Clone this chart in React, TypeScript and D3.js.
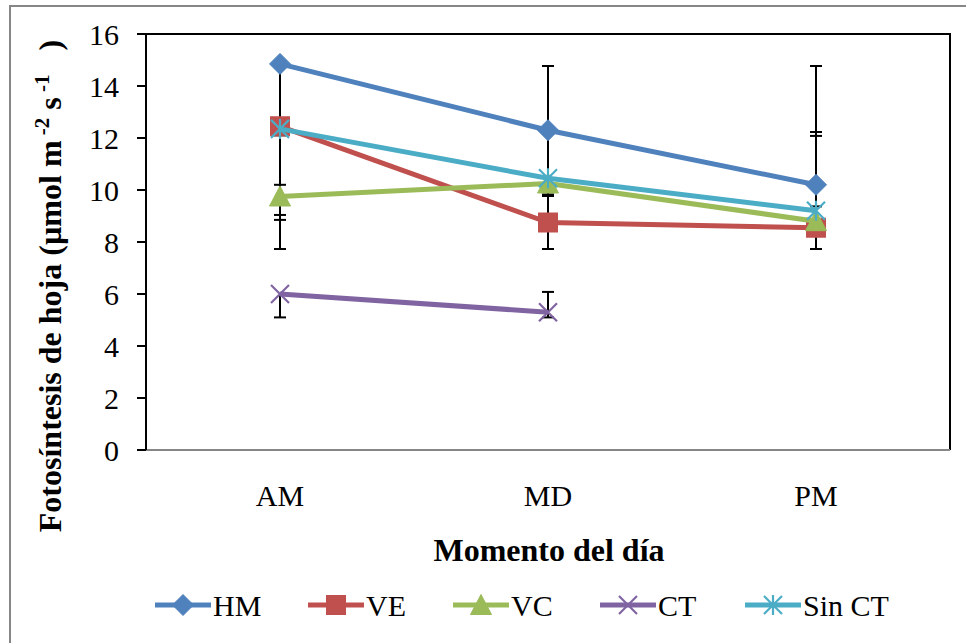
import React from "react";
import * as d3 from "d3";

const categories = ["AM", "MD", "PM"];
const yTicks = [0, 2, 4, 6, 8, 10, 12, 14, 16];

const hmValues = [14.85, 12.3, 10.2];
const veValues = [12.45, 8.75, 8.55];
const vcValues = [9.75, 10.25, 8.8];
const ctValues: (number | null)[] = [6.0, 5.3, null];
const sinCtValues = [12.35, 10.45, 9.2];

// error bar ends (absolute values), null = none
const hmLow = [12.1, 9.83, null];
const hmHigh = [null, 14.77, 14.77];
const veLow = [8.85, 7.73, 7.73];
const veHigh = [null, 9.77, 9.37];
const vcLow = [7.73, null, null];
const vcHigh = [10.2, null, 12.08];
const ctLow = [5.1, 5.1, null];
const ctHigh = [null, 6.08, null];
const sinCtLow = [9.04, null, null];
const sinCtHigh = [null, null, 12.23];

const seriesNames = ["HM", "VE", "VC", "CT", "Sin CT"];
const seriesColors = ["#4F81BD", "#C0504D", "#9BBB59", "#8064A2", "#4BACC6"];
const seriesMarkers = ["diamond", "square", "triangle", "x", "star"];

const series = [
  { values: hmValues, low: hmLow, high: hmHigh },
  { values: veValues, low: veLow, high: veHigh },
  { values: vcValues, low: vcLow, high: vcHigh },
  { values: ctValues, low: ctLow, high: ctHigh },
  { values: sinCtValues, low: sinCtLow, high: sinCtHigh },
].map((s, i) => ({ ...s, name: seriesNames[i], color: seriesColors[i], marker: seriesMarkers[i] }));

const W = 966;
const H = 643;
const left = 146;
const right = 950;
const top = 34;
const bottom = 450;
const FONT = "'Liberation Serif', 'Times New Roman', serif";
const FS = 30;

function Marker({ type, x, y, color }: { type: string; x: number; y: number; color: string }) {
  if (type === "diamond") {
    const r = 10.5;
    return <path d={`M${x},${y - r}L${x + r},${y}L${x},${y + r}L${x - r},${y}Z`} fill={color} stroke={color} strokeWidth={1} />;
  }
  if (type === "square") {
    const r = 9.5;
    return <rect x={x - r} y={y - r} width={2 * r} height={2 * r} fill={color} stroke={color} strokeWidth={1} />;
  }
  if (type === "triangle") {
    const r = 10.5;
    return <path d={`M${x},${y - r}L${x + r},${y + r - 1}L${x - r},${y + r - 1}Z`} fill={color} stroke={color} strokeWidth={1} />;
  }
  if (type === "x") {
    const r = 9;
    return <path d={`M${x - r},${y - r}L${x + r},${y + r}M${x - r},${y + r}L${x + r},${y - r}`} stroke={color} strokeWidth={2.2} fill="none" />;
  }
  const r = 9;
  return (
    <path
      d={`M${x - r},${y - r}L${x + r},${y + r}M${x - r},${y + r}L${x + r},${y - r}M${x},${y - r - 1}L${x},${y + r + 1}`}
      stroke={color}
      strokeWidth={2.2}
      fill="none"
    />
  );
}

export default function App() {
  const x = d3.scaleBand<string>().domain(categories).range([left, right]);
  const y = d3.scaleLinear().domain([0, 16]).range([bottom, top]);
  const cx = (c: string) => (x(c) ?? 0) + x.bandwidth() / 2;

  const line = d3
    .line<number | null>()
    .defined((d) => d !== null)
    .x((_, i) => cx(categories[i]))
    .y((d) => y(d as number));

  const legendX = [155, 308, 453, 600, 745];
  const legendY = 605;

  return (
    <svg width={W} height={H} style={{ position: "absolute", left: 0, top: 0, background: "#fff" }} fontFamily={FONT}>
      <rect x={10} y={6} width={970} height={660} fill="#fff" stroke="#868686" strokeWidth={2} />

      {/* plot border */}
      <path d={`M${left},${top}L${right},${top}L${right},${bottom}`} fill="none" stroke="#000" strokeWidth={2} />
      <line x1={left} x2={right} y1={bottom} y2={bottom} stroke="#868686" strokeWidth={2} />
      <line x1={left} x2={left} y1={top} y2={bottom} stroke="#000" strokeWidth={2} />

      {yTicks.map((t) => (
        <g key={t}>
          <line x1={left - 9} x2={left} y1={y(t)} y2={y(t)} stroke="#000" strokeWidth={2} />
          <text x={119} y={y(t)} dy="0.35em" textAnchor="end" fontSize={FS}>
            {t}
          </text>
        </g>
      ))}

      {categories.map((c) => (
        <text key={c} x={cx(c)} y={506} textAnchor="middle" fontSize={FS}>
          {c}
        </text>
      ))}

      <text x={549} y={561} textAnchor="middle" fontSize={32} fontWeight="bold">
        Momento del día
      </text>

      <text transform={`translate(61,${286}) rotate(-90)`} textAnchor="middle" fontSize={32} fontWeight="bold" xmlSpace="preserve">
        Fotosíntesis de hoja (µmol m
        <tspan fontSize={21} dy={-12}> -2</tspan>
        <tspan dy={12}> s</tspan>
        <tspan fontSize={21} dy={-12}> -1</tspan>
        <tspan dy={12}>{"   )"}</tspan>
      </text>

      {/* error bars */}
      {series.map((s, si) =>
        categories.map((c, i) => {
          const v = s.values[i];
          if (v === null) return null;
          const lo = s.low[i];
          const hi = s.high[i];
          const px = cx(c);
          const els = [];
          if (lo !== null) {
            els.push(<line key={`l${si}${i}`} x1={px} x2={px} y1={y(v)} y2={y(lo)} stroke="#000" strokeWidth={2} />);
            els.push(<line key={`lc${si}${i}`} x1={px - 6} x2={px + 6} y1={y(lo)} y2={y(lo)} stroke="#000" strokeWidth={2} />);
          }
          if (hi !== null) {
            els.push(<line key={`h${si}${i}`} x1={px} x2={px} y1={y(v)} y2={y(hi)} stroke="#000" strokeWidth={2} />);
            els.push(<line key={`hc${si}${i}`} x1={px - 6} x2={px + 6} y1={y(hi)} y2={y(hi)} stroke="#000" strokeWidth={2} />);
          }
          return els;
        })
      )}

      {series.map((s) => (
        <g key={s.name}>
          <path d={line(s.values) ?? ""} fill="none" stroke={s.color} strokeWidth={5} strokeLinejoin="round" />
          {s.values.map((v, i) =>
            v === null ? null : <Marker key={i} type={s.marker} x={cx(categories[i])} y={y(v)} color={s.color} />
          )}
        </g>
      ))}

      {series.map((s, i) => (
        <g key={s.name}>
          <line x1={legendX[i]} x2={legendX[i] + 56} y1={legendY} y2={legendY} stroke={s.color} strokeWidth={5} />
          <Marker type={s.marker} x={legendX[i] + 28} y={legendY} color={s.color} />
          <text x={legendX[i] + 58} y={legendY} dy="0.35em" fontSize={FS}>
            {s.name}
          </text>
        </g>
      ))}
    </svg>
  );
}
